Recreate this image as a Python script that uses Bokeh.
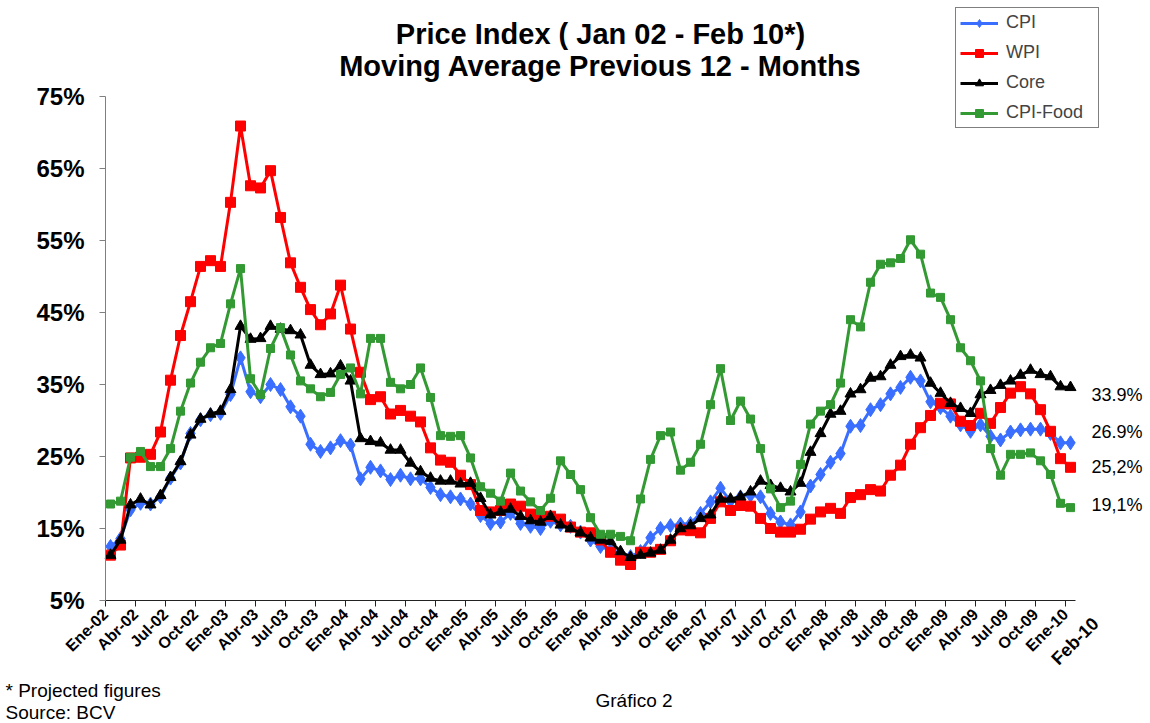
from math import pi
from bokeh.plotting import figure
from bokeh.models import Range1d, FixedTicker, Label, Legend, LegendItem
from bokeh.embed import file_html
from bokeh.resources import INLINE

cpi = [12.5, 13.6, 17.6, 18.5, 18.4, 19.4, 22.0, 24.1, 28.2, 30.1, 30.8, 31.0,
       33.6, 38.7, 34.0, 33.3, 35.0, 34.3, 31.9, 30.6, 26.7, 25.7, 26.2, 27.2,
       26.6, 21.9, 23.5, 23.0, 21.8, 22.4, 21.9, 21.9, 20.7, 19.7, 19.4, 19.1,
       18.4, 16.8, 15.7, 15.9, 17.1, 15.7, 15.3, 15.0, 16.0, 15.5, 15.3, 14.5,
       13.4, 12.5, 12.0, 11.6, 11.1, 11.8, 13.7, 15.0, 15.4, 15.6, 15.7, 17.1,
       18.7, 20.6, 18.8, 19.4, 19.6, 19.4, 17.1, 15.9, 15.5, 17.3, 20.9, 22.5,
       24.2, 25.4, 29.2, 29.3, 31.5, 32.2, 33.7, 34.6, 36.0, 35.5, 32.6, 31.8,
       30.6, 29.4, 28.5, 29.4, 27.8, 27.3, 28.4, 28.7, 28.8, 28.8, 28.2, 26.9,
       26.9]
wpi = [11.3, 12.7, 24.8, 24.9, 25.3, 28.4, 35.6, 41.8, 46.5, 51.4, 52.2, 51.4,
       60.3, 70.9, 62.6, 62.3, 64.7, 58.2, 51.9, 48.5, 45.4, 43.3, 44.8, 48.8,
       42.7, 36.7, 32.9, 33.3, 30.9, 31.4, 30.6, 29.8, 26.2, 24.5, 24.2, 22.4,
       21.1, 17.5, 17.3, 17.5, 18.4, 18.1, 17.0, 16.3, 16.7, 16.3, 15.2, 14.5,
       14.4, 13.4, 11.7, 10.6, 10.0, 11.7, 11.7, 12.1, 13.3, 14.8, 14.7, 14.4,
       16.4, 18.7, 17.5, 18.2, 18.1, 16.4, 15.0, 14.5, 14.5, 14.9, 16.3, 17.3,
       17.8, 17.1, 19.3, 19.7, 20.4, 20.2, 22.4, 23.8, 26.7, 29.0, 30.7, 32.4,
       32.3, 29.9, 29.3, 31.0, 29.6, 31.8, 33.8, 34.7, 33.7, 31.5, 28.5, 24.7,
       23.5]
core = [11.3, 13.4, 18.3, 19.1, 18.3, 19.6, 22.1, 24.3, 28.0, 30.2, 30.9, 31.3,
        34.3, 43.1, 41.3, 41.4, 43.1, 42.7, 42.5, 41.9, 37.7, 36.4, 36.5, 37.6,
        35.5, 27.5, 27.1, 26.9, 25.9, 25.9, 24.1, 22.9, 22.0, 21.6, 21.6, 21.2,
        21.3, 19.2, 16.9, 17.3, 17.7, 16.7, 16.1, 15.9, 16.7, 15.5, 15.0, 14.4,
        13.7, 13.4, 13.2, 11.8, 11.0, 11.3, 11.6, 12.0, 13.4, 15.0, 15.4, 16.4,
        16.9, 19.1, 19.1, 19.4, 20.1, 21.6, 21.0, 20.6, 20.1, 21.3, 25.6, 28.2,
        30.9, 31.3, 33.7, 34.3, 35.9, 36.1, 37.7, 38.9, 39.1, 38.7, 35.2, 33.8,
        32.4, 31.7, 31.0, 33.6, 34.2, 34.9, 35.5, 36.3, 37.0, 36.4, 36.1, 34.7,
        34.6]
food = [18.4, 18.8, 24.9, 25.7, 23.6, 23.6, 26.1, 31.3, 35.2, 38.1, 40.1, 40.7,
        46.2, 51.1, 35.8, 33.6, 40.0, 42.9, 39.1, 35.5, 34.4, 33.3, 33.9, 36.4,
        37.3, 33.7, 41.4, 41.4, 35.3, 34.4, 35.0, 37.3, 33.2, 27.9, 27.8, 27.9,
        24.8, 20.8, 19.9, 18.8, 22.7, 20.2, 18.7, 17.5, 19.2, 24.4, 22.5, 20.4,
        16.5, 14.2, 14.2, 13.9, 13.3, 19.1, 24.6, 27.9, 28.4, 23.1, 24.2, 26.7,
        32.2, 37.2, 30.0, 32.7, 30.2, 26.1, 20.5, 17.9, 18.8, 23.9, 29.5, 31.3,
        32.2, 35.2, 44.0, 43.0, 49.2, 51.7, 51.9, 52.5, 55.1, 53.1, 47.7, 47.1,
        44.0, 40.1, 38.3, 35.5, 26.1, 22.4, 25.3, 25.3, 25.5, 24.4, 22.5, 18.5,
        17.9]

tick_labels = ["Ene-02", "Abr-02", "Jul-02", "Oct-02", "Ene-03", "Abr-03", "Jul-03", "Oct-03",
               "Ene-04", "Abr-04", "Jul-04", "Oct-04", "Ene-05", "Abr-05", "Jul-05", "Oct-05",
               "Ene-06", "Abr-06", "Jul-06", "Oct-06", "Ene-07", "Abr-07", "Jul-07", "Oct-07",
               "Ene-08", "Abr-08", "Jul-08", "Oct-08", "Ene-09", "Abr-09", "Jul-09", "Oct-09",
               "Ene-10"]
last_label = "Feb-10"
y_ticks = [5, 15, 25, 35, 45, 55, 65, 75]
end_texts = ["33.9%", "26.9%", "25,2%", "19,1%"]
end_y = [33.6, 28.4, 23.6, 18.3]

FONT = "Liberation Sans"
n = len(cpi)
xs = list(range(n))

W, H = 1150, 723
LEFT, BOTTOM_Y = 105, 600          # y-axis pixel column / 5% line pixel row
PX_X, PX_Y = 10.0, 7.2             # pixels per month / per percentage point
x_start = -0.5 - LEFT / PX_X
x_end = -0.5 + (W - LEFT) / PX_X
y_start = 5 - (H - BOTTOM_Y) / PX_Y
y_end = 75 + 96 / PX_Y

p = figure(width=W, height=H, output_backend="svg", toolbar_location=None,
           x_range=Range1d(x_start, x_end), y_range=Range1d(y_start, y_end),
           min_border=0)
p.outline_line_color = None
p.xgrid.grid_line_color = None
p.ygrid.grid_line_color = None
p.background_fill_color = "white"
p.border_fill_color = "white"

# y axis, pinned at the left edge of the first category
p.yaxis.fixed_location = -0.5
p.yaxis.bounds = (5, 75)
p.yaxis.ticker = FixedTicker(ticks=y_ticks)
p.yaxis.major_label_overrides = {t: f"{t}%" for t in y_ticks}
p.yaxis.major_label_text_font = FONT
p.yaxis.major_label_text_font_style = "bold"
p.yaxis.major_label_text_font_size = "24px"
p.yaxis.major_label_text_color = "black"
p.yaxis.axis_line_color = "#808080"
p.yaxis.major_tick_line_color = "#808080"
p.yaxis.major_tick_out = 6
p.yaxis.major_tick_in = 0
p.yaxis.minor_tick_line_color = None
p.yaxis.major_label_standoff = 15

# x axis pinned at 5%, ticks on category boundaries every 3 months
xt = [3 * k - 0.5 for k in range(len(tick_labels))]
p.xaxis.fixed_location = 5
p.xaxis.bounds = (-0.5, n - 0.5)
p.xaxis.ticker = FixedTicker(ticks=xt)
p.xaxis.major_label_overrides = {t: lab for t, lab in zip(xt, tick_labels)}
p.xaxis.major_label_orientation = pi / 4
p.xaxis.major_label_text_font = FONT
p.xaxis.major_label_text_font_style = "bold"
p.xaxis.major_label_text_font_size = "16px"
p.xaxis.major_label_text_color = "black"
p.xaxis.axis_line_color = "#222222"
p.xaxis.major_tick_line_color = "#222222"
p.xaxis.major_tick_out = 6
p.xaxis.major_tick_in = 0
p.xaxis.minor_tick_line_color = None
p.xaxis.major_label_standoff = 5

series = [
    ("CPI", cpi, "#3A6EFF", "diamond", 14),
    ("WPI", wpi, "#FF0000", "square", 10),
    ("Core", core, "#000000", "triangle", 11),
    ("CPI-Food", food, "#339933", "square", 8),
]
items = []
for name, vals, col, mk, sz in series:
    r1 = p.line(xs, vals, line_color=col, line_width=3)
    r2 = p.scatter(xs, vals, marker=mk, size=sz, fill_color=col, line_color=col)
    items.append(LegendItem(label=name, renderers=[r1, r2]))

legend = Legend(items=items, location=(955, H - 128), orientation="vertical",
                label_text_font=FONT, label_text_font_size="18px",
                glyph_width=38, glyph_height=20, label_height=20, label_width=88,
                spacing=9, padding=4, margin=0, label_standoff=8,
                border_line_color="black", border_line_width=1,
                background_fill_color="white", background_fill_alpha=1.0)
p.add_layout(legend)

# titles
p.add_layout(Label(x=49, y=83.75, text="Price Index ( Jan 02 - Feb 10*)", text_align="center",
                   text_baseline="middle", text_font=FONT, text_font_style="bold",
                   text_font_size="29px", text_color="black"))
p.add_layout(Label(x=49, y=79.3, text="Moving Average Previous 12 - Months", text_align="center",
                   text_baseline="middle", text_font=FONT, text_font_style="bold",
                   text_font_size="29px", text_color="black"))

# end value labels
for t, yv in zip(end_texts, end_y):
    p.add_layout(Label(x=98.1, y=yv, text=t, text_align="left", text_baseline="middle",
                       text_font=FONT, text_font_size="18px", text_color="black"))

# last x label, rising to the right like the axis labels
p.add_layout(Label(x=98.5, y=2.2, text=last_label, angle=pi / 4, text_align="right",
                   text_baseline="middle", text_font=FONT, text_font_style="bold",
                   text_font_size="18px", text_color="black"))

# footers
p.add_layout(Label(x=-10.5, y=-7.5, text="* Projected figures", text_align="left",
                   text_baseline="middle", text_font=FONT, text_font_size="19px",
                   text_color="black"))
p.add_layout(Label(x=-10.5, y=-10.6, text="Source: BCV", text_align="left",
                   text_baseline="middle", text_font=FONT, text_font_size="19px",
                   text_color="black"))
p.add_layout(Label(x=48.5, y=-8.9, text="Gráfico 2", text_align="left",
                   text_baseline="middle", text_font=FONT, text_font_size="19px",
                   text_color="black"))

open("out.html", "w").write(file_html(p, INLINE))
